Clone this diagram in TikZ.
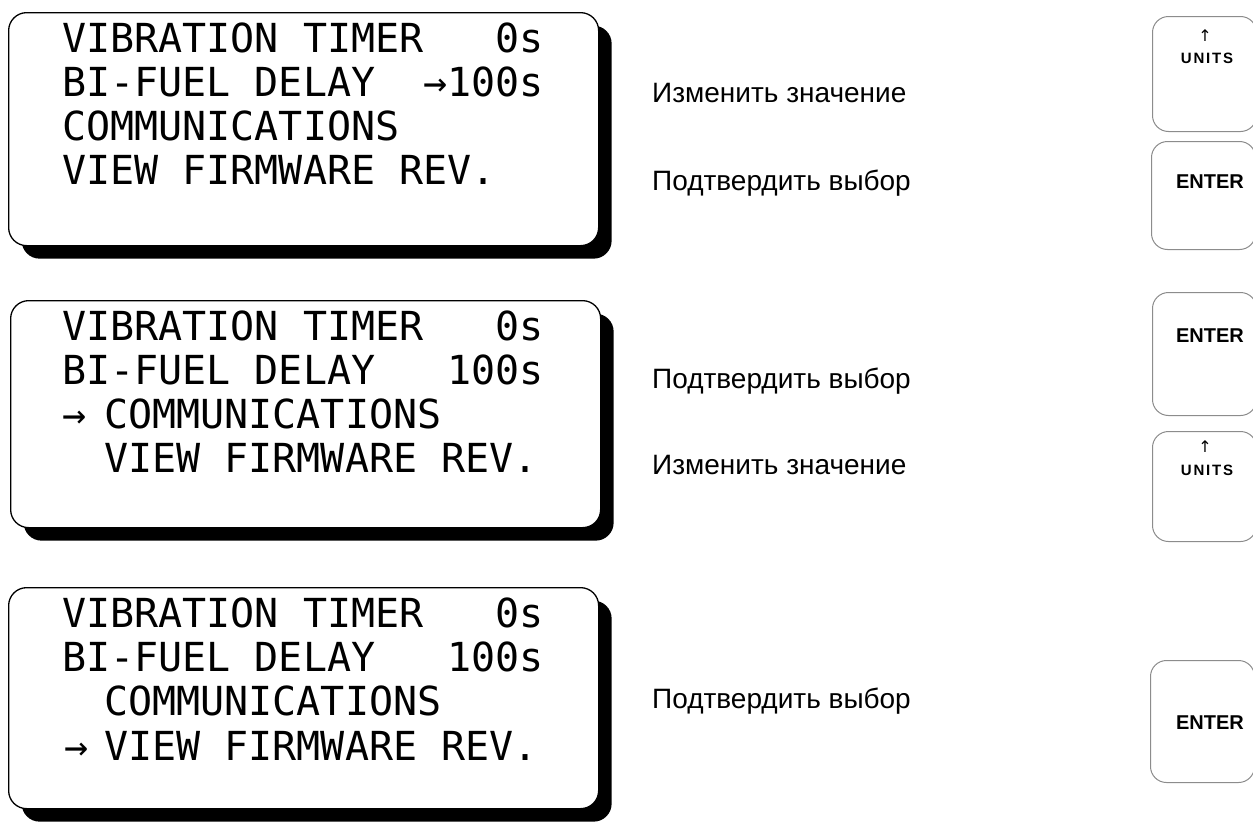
\documentclass[tikz,border=0pt]{standalone}
\usepackage{fontspec}
\setmainfont{Liberation Sans}
\newfontfamily\lcd{DejaVu Sans Mono}
\newfontfamily\dvs{DejaVu Sans}
\usetikzlibrary{shadows}
\begin{document}
\begin{tikzpicture}[x=1pt,y=-1pt,
  panel/.style={draw=black, line width=1.3pt, fill=white, rounded corners=18pt,
    anchor=north west, inner sep=0pt,
    drop shadow={shadow xshift=13pt, shadow yshift=-13pt, fill=black, opacity=1}},
  lcdline/.style={anchor=base west, inner sep=0pt, font=\lcd\fontsize{40}{40}\selectfont},
  label/.style={anchor=west, inner sep=0pt, font=\fontsize{28}{28}\selectfont},
  key/.style={draw=black!45, line width=1pt, fill=white, rounded corners=16pt,
    anchor=north west, inner sep=0pt, minimum width=104pt},
  keytext/.style={inner sep=0pt, font=\bfseries\fontsize{20}{20}\selectfont},
  unitstext/.style={inner sep=0pt, font=\bfseries\addfontfeature{LetterSpace=12}\fontsize{15}{15}\selectfont},
  uparrow/.style={inner sep=0pt, font=\dvs\fontsize{16}{16}\selectfont}]
\useasboundingbox[fill=white] (0,0) rectangle (1253,827);

% ---------- panel 1
\node[panel, minimum width=590pt, minimum height=233pt] (p1) at (8,12) {};
\node[lcdline] (p1a) at (62,52) {VIBRATION TIMER\ \ \ 0s};
\node[lcdline] (p1b) at (62,96) {BI-FUEL DELAY\ \ →100s};
\node[lcdline] (p1c) at (62,140) {COMMUNICATIONS};
\node[lcdline] (p1d) at (62,184) {VIEW FIRMWARE REV.};

% ---------- panel 2
\node[panel, minimum width=590pt, minimum height=227pt] (p2) at (10,300) {};
\node[lcdline] (p2a) at (62,340) {VIBRATION TIMER\ \ \ 0s};
\node[lcdline] (p2b) at (62,384) {BI-FUEL DELAY\ \ \ 100s};
\node[lcdline] (p2ar) at (62,428) {→};
\node[lcdline] (p2c) at (104,428) {COMMUNICATIONS};
\node[lcdline] (p2d) at (104,472) {VIEW FIRMWARE REV.};

% ---------- panel 3
\node[panel, minimum width=590pt, minimum height=221pt] (p3) at (8,587) {};
\node[lcdline] (p3a) at (62,627) {VIBRATION TIMER\ \ \ 0s};
\node[lcdline] (p3b) at (62,671) {BI-FUEL DELAY\ \ \ 100s};
\node[lcdline] (p3c) at (104,715) {COMMUNICATIONS};
\node[lcdline] (p3ar) at (64,760) {→};
\node[lcdline] (p3d) at (104,760) {VIEW FIRMWARE REV.};

% ---------- labels
\node[label] (t1) at (652,93) {Изменить значение};
\node[label] (t2) at (652,183) {Подтвердить выбор};
\node[label] (t3) at (652,381) {Подтвердить выбор};
\node[label] (t4) at (652,465) {Изменить значение};
\node[label] (t5) at (652,701) {Подтвердить выбор};

% ---------- keys
\node[key, minimum height=115pt] (k1) at (1152,16) {};
\node[uparrow] (k1a) at (1205,36) {↑};
\node[unitstext] (k1t) at (1207,58) {UNITS};

\node[key, minimum height=108pt] (k2) at (1151,141) {};
\node[keytext] (k2t) at (1210,182) {ENTER};

\node[key, minimum height=123pt] (k3) at (1152,292) {};
\node[keytext] (k3t) at (1210,336) {ENTER};

\node[key, minimum height=110pt] (k4) at (1152,431) {};
\node[uparrow] (k4a) at (1205,447) {↑};
\node[unitstext] (k4t) at (1207,470) {UNITS};

\node[key, minimum height=122pt] (k5) at (1150,660) {};
\node[keytext] (k5t) at (1210,723) {ENTER};
\end{tikzpicture}
\end{document}
